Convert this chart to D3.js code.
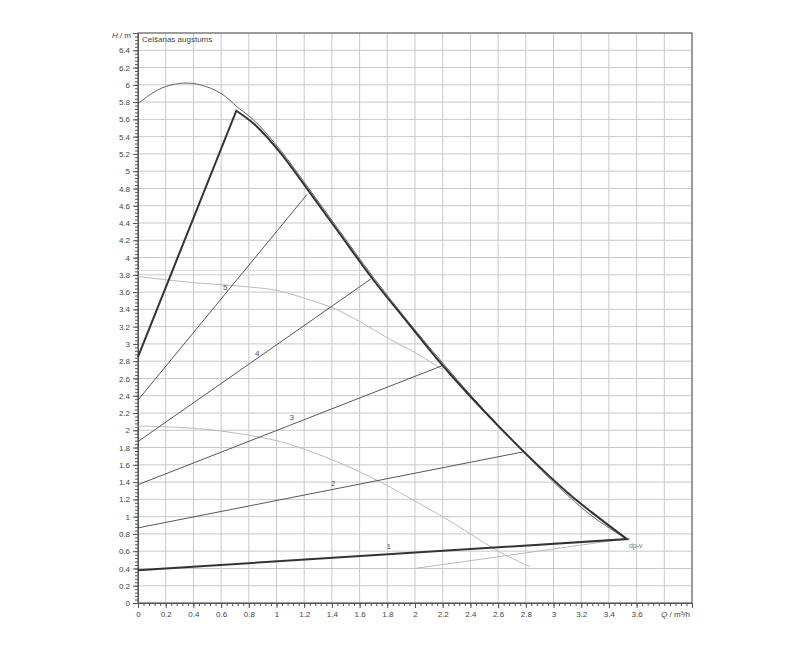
<!DOCTYPE html>
<html>
<head>
<meta charset="utf-8">
<script src="https://d3js.org/d3.v7.min.js"></script>
<style>
body { margin: 0; background: #fff; font-family: Arial, "Liberation Sans", sans-serif; }
</style>
</head>
<body>
<div id="chart"></div>
<script>
// max curve (thin)
var maxQ = [0, 0.1, 0.2, 0.33, 0.45, 0.6, 0.72, 0.85, 1.03, 1.233, 1.45, 1.7, 1.95, 2.2, 2.5, 2.8, 3.1, 3.3, 3.53];
var maxH = [5.78, 5.9, 5.98, 6.02, 6.0, 5.9, 5.74, 5.57, 5.24, 4.8, 4.32, 3.77, 3.26, 2.78, 2.23, 1.72, 1.25, 0.98, 0.74];
// thick dp-v envelope
var envQ = [0, 0.71, 0.85, 1.03, 1.233, 1.45, 1.7, 1.95, 2.2, 2.5, 2.8, 3.1, 3.3, 3.53, 0];
var envH = [2.85, 5.7, 5.53, 5.21, 4.77, 4.29, 3.74, 3.24, 2.75, 2.22, 1.73, 1.28, 1.02, 0.74, 0.38];
// speed lines 2..5
var lineNames = ["2", "3", "4", "5"];
var lineQ0 = [0, 0, 0, 0], lineH0 = [0.87, 1.37, 1.87, 2.35];
var lineQ1 = [2.78, 2.2, 1.68, 1.22], lineH1 = [1.75, 2.75, 3.75, 4.73];
// labels
var labNames = ["1", "2", "3", "4", "5"];
var labQ = [1.81, 1.41, 1.11, 0.86, 0.63], labH = [0.62, 1.36, 2.12, 2.86, 3.63];
// grey curves
var greyAQ = [0, 0.4, 0.8, 1.0, 1.2, 1.4, 1.6, 1.8, 2.0, 2.2];
var greyAH = [3.78, 3.71, 3.66, 3.62, 3.53, 3.42, 3.26, 3.07, 2.9, 2.7];
var greyBQ = [0, 0.5, 1.0, 1.2, 1.4, 1.6, 1.8, 2.0, 2.2, 2.4, 2.6, 2.83];
var greyBH = [2.05, 2.01, 1.88, 1.78, 1.66, 1.52, 1.36, 1.18, 1.0, 0.8, 0.6, 0.42];
var greyCQ = [2.0, 3.55], greyCH = [0.4, 0.75];
var horizQ = [0, 1.68], horizH = [3.85, 3.85];

var W = 800, H = 650;
var m = {left: 138, right: 108, top: 33, bottom: 47};
var svg = d3.select("#chart").append("svg").attr("width", W).attr("height", H);
var x = d3.scaleLinear().domain([0, 4]).range([m.left, W - m.right]);
var y = d3.scaleLinear().domain([0, 6.6]).range([H - m.bottom, m.top]);

// grid
var g = svg.append("g").attr("stroke", "#c8c8c8").attr("stroke-width", 1);
d3.range(0, 4.01, 0.2).forEach(function(v) {
  g.append("line").attr("x1", x(v)).attr("x2", x(v)).attr("y1", y(0)).attr("y2", y(6.6));
});
d3.range(0, 6.61, 0.2).forEach(function(v) {
  g.append("line").attr("x1", x(0)).attr("x2", x(4)).attr("y1", y(v)).attr("y2", y(v));
});
svg.append("rect").attr("x", x(0)).attr("y", y(6.6)).attr("width", x(4) - x(0)).attr("height", y(0) - y(6.6))
  .attr("fill", "none").attr("stroke", "#555");

var fmt = function(d) { return String(+d.toFixed(1)); };
svg.append("g").attr("transform", "translate(0," + y(0) + ")")
  .call(d3.axisBottom(x).tickValues(d3.range(0, 3.61, 0.2)).tickFormat(fmt).tickSize(5));
svg.append("g").attr("transform", "translate(0," + y(0) + ")")
  .call(d3.axisBottom(x).tickValues(d3.range(0, 4.001, 0.04)).tickFormat("").tickSize(3));
svg.append("g").attr("transform", "translate(" + x(0) + ",0)")
  .call(d3.axisLeft(y).tickValues(d3.range(0, 6.41, 0.2)).tickFormat(fmt).tickSize(5));
svg.append("g").attr("transform", "translate(" + x(0) + ",0)")
  .call(d3.axisLeft(y).tickValues(d3.range(0, 6.601, 0.04)).tickFormat("").tickSize(3));
svg.selectAll(".domain").attr("stroke", "#555");
svg.selectAll(".tick line").attr("stroke", "#555");
svg.selectAll(".tick text").attr("font-size", 8).attr("fill", "#444");

svg.append("text").attr("x", x(0) - 7).attr("y", y(6.6) + 5).attr("text-anchor", "end")
  .attr("font-size", 8).attr("fill", "#444").html("<tspan font-style='italic'>H</tspan> / m");
svg.append("text").attr("x", x(4) - 2).attr("y", y(0) + 14).attr("text-anchor", "end")
  .attr("font-size", 8).attr("fill", "#444").html("<tspan font-style='italic'>Q</tspan> / m³/h");
svg.append("text").attr("x", x(0) + 4).attr("y", y(6.6) + 9)
  .attr("font-size", 8).attr("fill", "#444").text("Celšanas augstums");

function pts(qs, hs) { return qs.map(function(q, i) { return [x(q), y(hs[i])]; }); }
var smooth = d3.line().curve(d3.curveCatmullRom);
var straight = d3.line();

svg.append("path").attr("d", straight(pts(horizQ, horizH))).attr("fill", "none").attr("stroke", "#ddd");
svg.append("path").attr("d", smooth(pts(greyAQ, greyAH))).attr("fill", "none").attr("stroke", "#bbb");
svg.append("path").attr("d", smooth(pts(greyBQ, greyBH))).attr("fill", "none").attr("stroke", "#bbb");
svg.append("path").attr("d", straight(pts(greyCQ, greyCH))).attr("fill", "none").attr("stroke", "#bbb");

lineNames.forEach(function(n, i) {
  svg.append("path").attr("d", straight(pts([lineQ0[i], lineQ1[i]], [lineH0[i], lineH1[i]])))
    .attr("fill", "none").attr("stroke", "#444").attr("stroke-width", 0.9);
});
svg.append("path").attr("d", smooth(pts(maxQ, maxH)))
  .attr("fill", "none").attr("stroke", "#555").attr("stroke-width", 0.9);
svg.append("path").attr("d", straight(pts(envQ.slice(0, 2), envH.slice(0, 2))) + smooth(pts(envQ.slice(1, 14), envH.slice(1, 14))).replace("M", "L") + straight(pts(envQ.slice(13), envH.slice(13))).replace("M", "L"))
  .attr("fill", "none").attr("stroke", "#333").attr("stroke-width", 2);

labNames.forEach(function(n, i) {
  svg.append("text").attr("x", x(labQ[i])).attr("y", y(labH[i])).attr("text-anchor", "middle")
    .attr("font-size", 8).attr("fill", "#555").text(n);
});
svg.append("text").attr("x", x(3.53) + 2).attr("y", y(0.74) + 9).attr("font-size", 7).attr("fill", "#777").text("dp-v");
</script>
</body>
</html>
